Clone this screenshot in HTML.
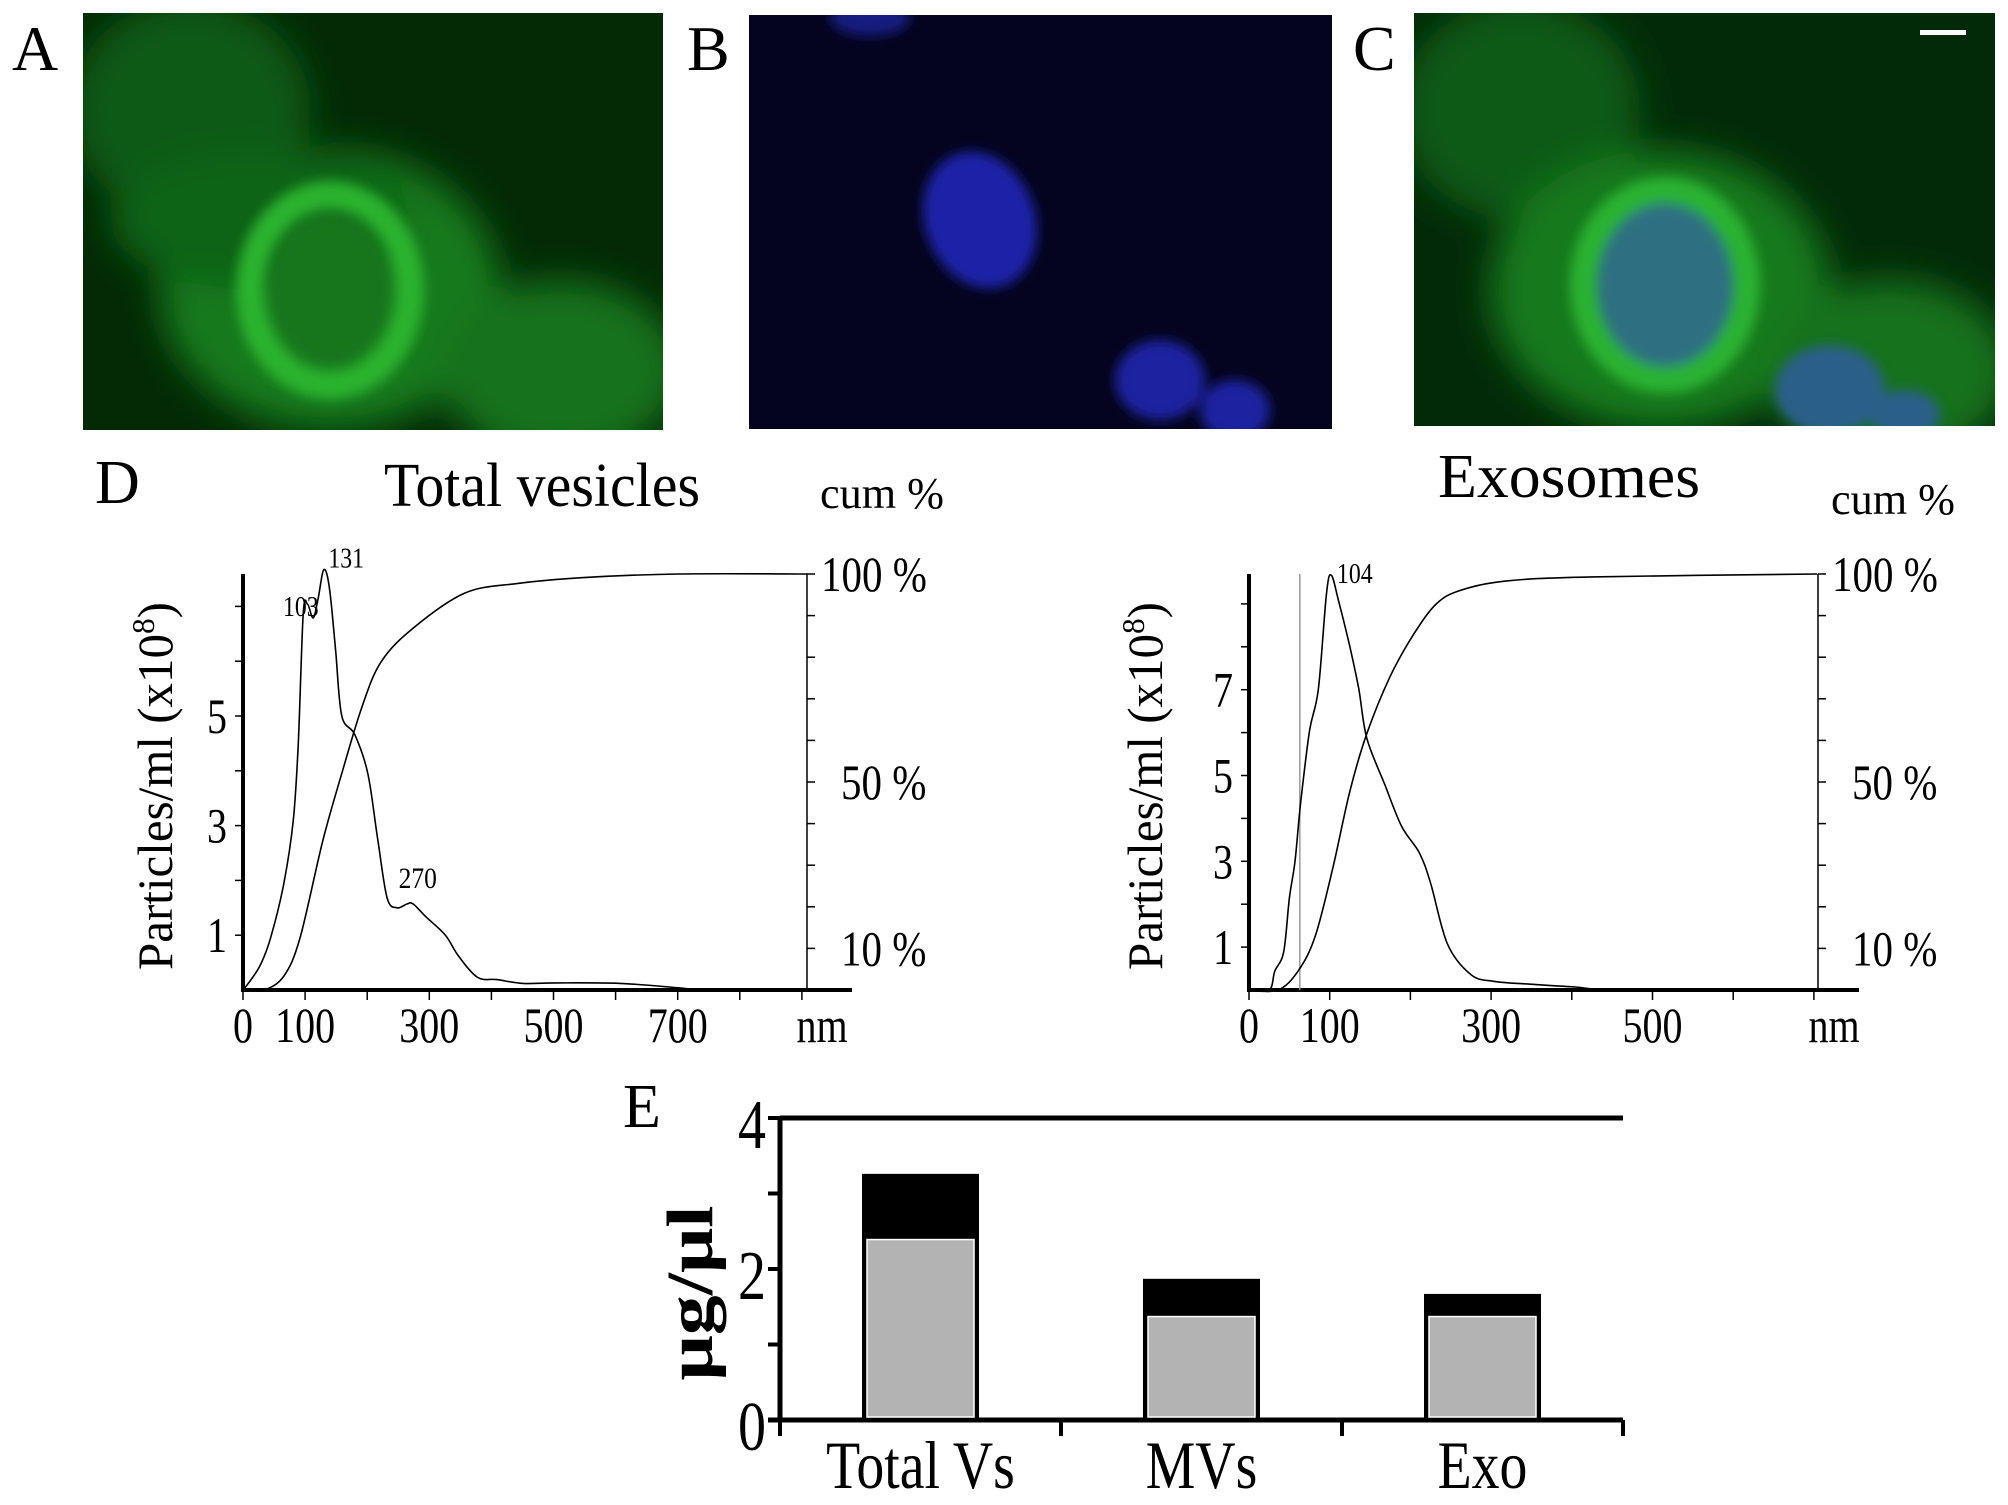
<!DOCTYPE html>
<html><head><meta charset="utf-8"><style>
html,body{margin:0;padding:0;background:#fff;}
svg{display:block;font-family:"Liberation Serif",serif;}
</style></head><body>
<svg id="fig" width="2008" height="1505" viewBox="0 0 2008 1505" xmlns="http://www.w3.org/2000/svg">
<defs>
<filter id="b1" x="-50%" y="-50%" width="200%" height="200%"><feGaussianBlur stdDeviation="18"/></filter>
<filter id="b2" x="-50%" y="-50%" width="200%" height="200%"><feGaussianBlur stdDeviation="6"/></filter>
<clipPath id="cA"><rect x="83" y="13" width="580" height="417"/></clipPath>
<clipPath id="cB"><rect x="749" y="15" width="583" height="414"/></clipPath>
<clipPath id="cC"><rect x="1414" y="13" width="581" height="413"/></clipPath>
</defs>
<text x="12" y="70" font-size="64">A</text>
<text x="687" y="70" font-size="64">B</text>
<text x="1353" y="70" font-size="64">C</text>

<g clip-path="url(#cA)">
<rect x="83" y="13" width="580" height="417" fill="#032a05"/>
<g filter="url(#b1)">
<ellipse cx="190" cy="110" rx="120" ry="110" fill="#0d5a12"/>
<ellipse cx="330" cy="290" rx="170" ry="140" fill="#157a1a"/>
<ellipse cx="260" cy="220" rx="150" ry="70" fill="#0f6414"/>
<ellipse cx="560" cy="370" rx="120" ry="90" fill="#15721a"/>
</g>
<g filter="url(#b2)">
<ellipse cx="330" cy="290" rx="80" ry="95" fill="none" stroke="#2ab22e" stroke-width="28"/>
<ellipse cx="330" cy="290" rx="60" ry="75" fill="#15761a"/>
</g>
</g>
<g clip-path="url(#cB)">
<rect x="749" y="15" width="583" height="414" fill="#04041e"/>
<g filter="url(#b2)">
<ellipse cx="980" cy="220" rx="70" ry="55" transform="rotate(70 980 220)" fill="#1e24a8"/>
<ellipse cx="1160" cy="380" rx="45" ry="40" fill="#1b20a0"/>
<ellipse cx="1235" cy="410" rx="35" ry="30" fill="#1b20a0"/>
<ellipse cx="870" cy="18" rx="40" ry="18" fill="#141a80"/>
</g>
</g>
<g clip-path="url(#cC)">
<rect x="1414" y="13" width="581" height="413" fill="#032a08"/>
<g filter="url(#b1)">
<ellipse cx="1520" cy="110" rx="120" ry="110" fill="#0d5a16"/>
<ellipse cx="1660" cy="290" rx="170" ry="140" fill="#157a1e"/>
<ellipse cx="1890" cy="370" rx="120" ry="90" fill="#15721e"/>
</g>
<g filter="url(#b2)">
<ellipse cx="1665" cy="285" rx="82" ry="95" fill="none" stroke="#2ab232" stroke-width="26"/>
<ellipse cx="1665" cy="285" rx="68" ry="82" fill="#2f6f82"/>
<ellipse cx="1830" cy="390" rx="55" ry="45" fill="#2c5f8a"/>
<ellipse cx="1905" cy="415" rx="35" ry="25" fill="#2c5f8a"/>
</g>
<rect x="1920" y="30" width="46" height="5" fill="#fff"/>
</g>

<text x="95" y="503" font-size="62">D</text>
<text x="384" y="506" font-size="62" textLength="316" lengthAdjust="spacingAndGlyphs">Total vesicles</text>
<text x="820" y="508" font-size="44" textLength="124" lengthAdjust="spacingAndGlyphs">cum %</text>
<text x="1438" y="497" font-size="62" textLength="262" lengthAdjust="spacingAndGlyphs">Exosomes</text>
<text x="1831" y="514" font-size="44" textLength="124" lengthAdjust="spacingAndGlyphs">cum %</text>

<g id="chartL"></g>
<g id="chartR"></g>

<text x="623" y="1127" font-size="62">E</text>
<g id="chartE"></g>
</svg>
<script>
// ---- Data: Total vesicles ----
const totNm = [0,13,29,45,66,81,89,97,104,113,121,130,139,149,159,180,201,217,232,248,264,274,295,326,347,378,409,451,503,607,701,743,909];
const totConc = [0,0.19,0.48,0.97,1.96,3.1,4.5,6.86,7.04,6.79,7.14,7.67,7.35,6.22,5.01,4.66,3.95,2.74,1.68,1.5,1.57,1.57,1.33,1.0,0.62,0.23,0.19,0.12,0.13,0.12,0.04,0,0];
const totCumNm = [0,34,66,92,128,159,191,222,274,357,441,545,701,909];
const totCum = [0,0,3.4,12.6,35.6,52,67.8,78.8,87,95.4,97.7,99.1,100,100];
const totXTicks = [0,100,300,500,700];
const totYTicks = [1,3,5];
const totPeaks = [103,131,270];
// ---- Data: Exosomes ----
const exoNm = [0,25,32,43,50,57,64,75,86,96,102,111,125,136,146,168,189,211,225,246,275,304,354,404,461,704];
const exoConc = [0,0,0.44,0.89,2.13,3.0,4.36,6.04,7.02,9.24,9.67,9.07,8.0,7.02,5.87,4.8,3.82,3.2,2.49,1.07,0.36,0.2,0.13,0.07,0,0];
const exoCumNm = [0,36,61,82,104,125,146,175,204,232,261,318,425,704];
const exoCum = [0,0,4.6,12.9,29.4,47.8,61.6,75.4,85.5,92.8,96,98.3,99.3,100];
const exoXTicks = [0,100,300,500];
const exoYTicks = [1,3,5,7];
const exoPeaks = [104];
const cumTicks = [10,50,100];
// ---- Data: bar chart ----
const barCats = ["Total Vs","MVs","Exo"];
const barTotal = [3.26,1.87,1.67];
const barLower = [2.39,1.37,1.37];
const barYTicks = [0,2,4];

const NS="http://www.w3.org/2000/svg";
function mk(parent,tag,attrs,text){const e=document.createElementNS(NS,tag);for(const k in attrs)e.setAttribute(k,attrs[k]);if(text!==undefined)e.textContent=text;parent.appendChild(e);return e;}
// condensed text
function ct(parent,x,y,size,sx,anchor,str){return mk(parent,'text',{x:0,y:0,'font-size':size,'text-anchor':anchor,transform:`translate(${x},${y}) scale(${sx},1)`},str);}
function smooth(pts){
  let d='M'+pts[0][0].toFixed(1)+','+pts[0][1].toFixed(1);
  for(let i=0;i<pts.length-1;i++){
    const p0=pts[Math.max(0,i-1)],p1=pts[i],p2=pts[i+1],p3=pts[Math.min(pts.length-1,i+2)];
    const c1=[p1[0]+(p2[0]-p0[0])/6,p1[1]+(p2[1]-p0[1])/6],c2=[p2[0]-(p3[0]-p1[0])/6,p2[1]-(p3[1]-p1[1])/6];
    d+=` C${c1[0].toFixed(1)},${c1[1].toFixed(1)} ${c2[0].toFixed(1)},${c2[1].toFixed(1)} ${p2[0].toFixed(1)},${p2[1].toFixed(1)}`;
  }
  return d;
}

function nta(g,o){
  const X=v=>o.x0+v*o.pxPerNm, Y=v=>o.y0-v*o.pxPerUnit, C=v=>o.y0-v*(o.y0-o.yTop)/100;
  let e;
  e=mk(g,'line',{x1:o.x0,y1:o.yTop,x2:o.x0,y2:o.y0+2,stroke:'#000','stroke-width':4});
  
  
  e=mk(g,'line',{x1:o.x0-2,y1:o.y0,x2:o.xEnd,y2:o.y0,stroke:'#000','stroke-width':4});
  
  
  e=mk(g,'line',{x1:o.xR,y1:o.yTop,x2:o.xR,y2:o.y0,stroke:'#000','stroke-width':1.5});
  
  
  for(let p=10;p<=100;p+=10){e=mk(g,'line',{x1:o.xR,y1:C(p),x2:o.xR+8,y2:C(p),stroke:'#000','stroke-width':1.5});
  
  }
  for(let u=1;u<=o.maxU;u++){e=mk(g,'line',{x1:o.x0-8,y1:Y(u),x2:o.x0,y2:Y(u),stroke:'#000','stroke-width':1.5});
  
  }
  for(let n=0;X(n)<=o.xEnd;n+=100){e=mk(g,'line',{x1:X(n),y1:o.y0,x2:X(n),y2:o.y0+10,stroke:'#000','stroke-width':1.5});
  
  }
  o.xTicks.forEach(t=>{e=ct(g,X(t),o.y0+52,50,0.8,'middle',String(t));
  
  });
  e=ct(g,o.nmX,o.y0+52,50,0.8,'middle','nm');
  
  
  o.yTicks.forEach(t=>{e=ct(g,o.x0-16,Y(t)+17,50,0.8,'end',String(t));
  
  });
  cumTicks.forEach(t=>{e=ct(g,o.xR+(t===100?14:34),C(t)+17,50,0.82,'start',t+' %');
  
  });
  const yt=mk(g,'text',{x:0,y:0,'font-size':50,'text-anchor':'middle',textLength:368,lengthAdjust:'spacingAndGlyphs',transform:`translate(${o.titleX},786) rotate(-90)`});
  
  
  yt.appendChild(document.createTextNode('Particles/ml (x10'));
  const sup=document.createElementNS(NS,'tspan');sup.setAttribute('dy','-18');sup.setAttribute('font-size','32');sup.textContent='8';yt.appendChild(sup);
  const cl=document.createElementNS(NS,'tspan');cl.setAttribute('dy','18');cl.textContent=')';yt.appendChild(cl);
  if(o.grayNm!==undefined){e=mk(g,'line',{x1:X(o.grayNm),y1:o.yTop,x2:X(o.grayNm),y2:o.y0,stroke:'#999','stroke-width':1.5});
  
  }
  e=mk(g,'path',{d:smooth(o.nm.map((n,i)=>[X(n),Y(o.conc[i])])),fill:'none',stroke:'#000','stroke-width':1.6,'stroke-linejoin':'round'});
  
  
  e=mk(g,'path',{d:smooth(o.cumNm.map((n,i)=>[X(n),C(o.cum[i])])),fill:'none',stroke:'#000','stroke-width':1.6,'stroke-linejoin':'round'});
  
  
  o.peaks.forEach((p,i)=>{
    let idx=0,best=1e9;o.nm.forEach((n,j)=>{if(Math.abs(n-p)<best){best=Math.abs(n-p);idx=j;}});
    const py=Y(o.conc[idx]);const off=o.peakOff[i];
    e=ct(g,X(p)+off[0],py+off[1],o.peakSize[i],0.85,'start',String(p));
    
    
  });
}
nta(document.getElementById('chartL'),{x0:243,y0:990,yTop:574,xR:807,xEnd:852,pxPerNm:0.621,pxPerUnit:54.8,maxU:7,
  nm:totNm,conc:totConc,cumNm:totCumNm,cum:totCum,xTicks:totXTicks,yTicks:totYTicks,nmX:822,titleX:172,
  peaks:totPeaks,peakOff:[[-24,12],[4,-2],[-12,-16]],peakSize:[28,28,30]});
nta(document.getElementById('chartR'),{x0:1249,y0:990,yTop:574,xR:1818,xEnd:1859,pxPerNm:0.807,pxPerUnit:42.9,maxU:9,
  nm:exoNm,conc:exoConc,cumNm:exoCumNm,cum:exoCum,xTicks:exoXTicks,yTicks:exoYTicks,nmX:1834,titleX:1162,grayNm:63,
  peaks:exoPeaks,peakOff:[[4,8]],peakSize:[28]});

// ---- bar chart ----
(function(){
  const g=document.getElementById('chartE');
  const x0=780,x1=1623,y0=1420,yTop=1118,unit=(y0-yTop)/4,bw=117;
  const Y=v=>y0-v*unit;
  const slot=(x1-x0)/barCats.length;
  let e;
  e=mk(g,'line',{x1:x0,y1:yTop,x2:x1,y2:yTop,stroke:'#000','stroke-width':5});
  
  
  e=mk(g,'line',{x1:x0,y1:yTop-2,x2:x0,y2:y0+2,stroke:'#000','stroke-width':5});
  
  
  e=mk(g,'line',{x1:x0-12,y1:y0,x2:x1,y2:y0,stroke:'#000','stroke-width':5});
  
  
  for(let v=0;v<=4;v++){e=mk(g,'line',{x1:x0-12,y1:Y(v),x2:x0,y2:Y(v),stroke:'#000','stroke-width':4});
  
  }
  barYTicks.forEach(t=>{e=ct(g,x0-14,Y(t)+30,70,0.8,'end',String(t));
  
  });
  for(let i=0;i<=barCats.length;i++){e=mk(g,'line',{x1:x0+i*slot,y1:y0,x2:x0+i*slot,y2:y0+16,stroke:'#000','stroke-width':4});
  
  }
  const yt=mk(g,'text',{x:0,y:0,'font-size':66,'font-weight':'bold','text-anchor':'middle',textLength:175,lengthAdjust:'spacingAndGlyphs',transform:'translate(712,1293) rotate(-90)'},'μg/μl');
  
  
  barCats.forEach((c,i)=>{
    const cx=x0+slot*(i+0.5);const bx=cx-bw/2;
    e=mk(g,'rect',{x:bx,y:Y(barTotal[i]),width:bw,height:Y(0)-Y(barTotal[i]),fill:'#000'});
    
    
    e=mk(g,'rect',{x:bx+5,y:Y(barLower[i]),width:bw-10,height:Y(0)-Y(barLower[i])-3,fill:'#b3b3b3',stroke:'#fff','stroke-width':1.5});
    
    
    e=ct(g,cx,1488,68,0.82,'middle',c);
    
    
  });
})();
</script>
</body></html>
